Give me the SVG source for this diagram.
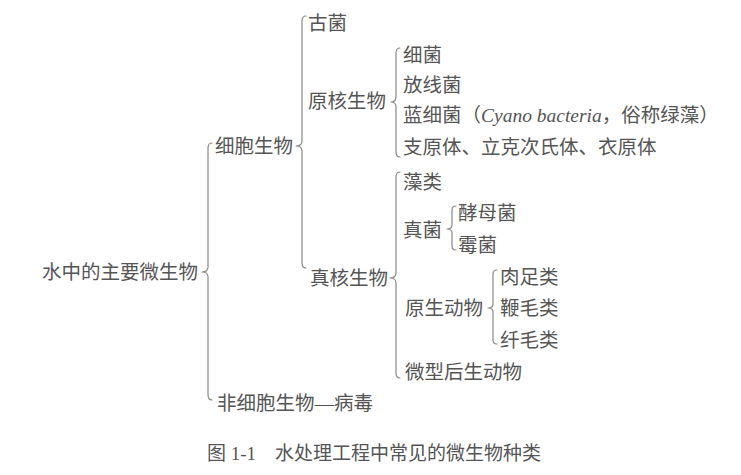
<svg xmlns="http://www.w3.org/2000/svg" width="741" height="475" viewBox="0 0 741 475">
<style>
text{font-family:"Liberation Serif","Noto Sans CJK SC",serif;font-size:19.5px;fill:#555}
.br{fill:none;stroke:#888;stroke-width:1.2;stroke-linecap:round;stroke-linejoin:round}
.it{font-style:italic}
.cap{font-size:19px}
</style>
<rect width="741" height="475" fill="#fff"/>
<g id="connectors">
<path class="br" d="M212 143 Q208 143 208 148 L208 267 Q208 272 202 272 Q208 272 208 277 L208 395 Q208 400 212 400"/>
<path class="br" d="M306 16 Q302 16 302 21 L302 141 Q302 146 296 146 Q302 146 302 151 L302 263 Q302 268 306 268"/>
<path class="br" d="M400 48 Q396 48 396 53 L396 97 Q396 102 391 102 Q396 102 396 107 L396 152 Q396 157 400 157"/>
<path class="br" d="M400 172 Q396 172 396 177 L396 273 Q396 278 390 278 Q396 278 396 283 L396 373 Q396 378 400 378"/>
<path class="br" d="M456 206 Q452 206 452 210 L452 225 Q452 229 447 229 Q452 229 452 233 L452 246 Q452 250 456 250"/>
<path class="br" d="M497 270 Q493 270 493 274 L493 304 Q493 308 488 308 Q493 308 493 312 L493 340 Q493 344 497 344"/>
</g>
<g id="root"><text x="42" y="279">水中的主要微生物</text></g>
<g id="cell"><text x="215" y="153">细胞生物</text></g>
<g id="noncell"><text x="217" y="410">非细胞生物—病毒</text></g>
<g id="archaea"><text x="308" y="30">古菌</text></g>
<g id="prokaryote"><text x="308" y="108">原核生物</text></g>
<g id="eukaryote"><text x="310" y="285">真核生物</text></g>
<g id="bacteria"><text x="403" y="62">细菌</text></g>
<g id="actino"><text x="403" y="92">放线菌</text></g>
<g id="cyano"><text x="403" y="122">蓝细菌（<tspan class="it">Cyano bacteria</tspan>，俗称绿藻）</text></g>
<g id="myco"><text x="403" y="154">支原体、立克次氏体、衣原体</text></g>
<g id="algae"><text x="403" y="189">藻类</text></g>
<g id="fungi"><text x="403" y="237">真菌</text></g>
<g id="yeast"><text x="458" y="220">酵母菌</text></g>
<g id="mold"><text x="458" y="252">霉菌</text></g>
<g id="protozoa"><text x="405" y="315">原生动物</text></g>
<g id="sarco"><text x="500" y="284">肉足类</text></g>
<g id="flag"><text x="500" y="315">鞭毛类</text></g>
<g id="cilia"><text x="500" y="347">纤毛类</text></g>
<g id="metazoa"><text x="405" y="379">微型后生动物</text></g>
<g id="caption"><text class="cap" x="207" y="460">图 1-1　水处理工程中常见的微生物种类</text></g>
</svg>
